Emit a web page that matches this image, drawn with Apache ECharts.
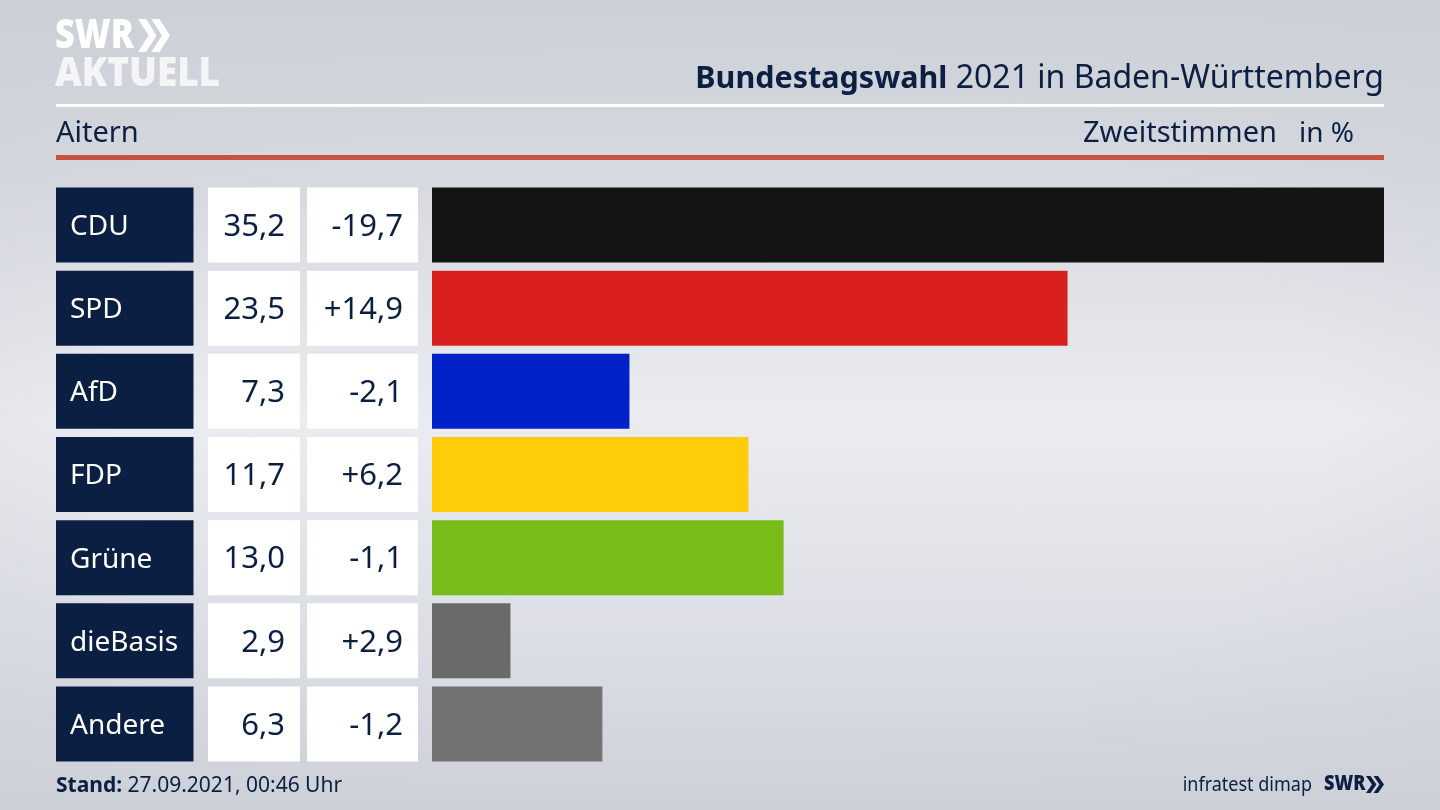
<!DOCTYPE html>
<html lang="de">
<head>
<meta charset="UTF-8">
<title>Bundestagswahl 2021 in Baden-Württemberg</title>
<style>
	*{margin:0;padding:0;}
	html,body{width:1440px;height:810px;overflow:hidden;}
	body{background:
		radial-gradient(ellipse 1000px 560px at 50% 52%,rgba(205,208,215,0) 60%,rgba(205,208,215,.55) 100%),
		linear-gradient(to bottom,#ccd0d7 0%,#d6d9df 22%,#eaecf1 52%,#d9dce2 82%,#cdd0d7 100%);}
	#chart{width:1440px;height:810px;}
</style>
</head>
<body>
<div id="chart"></div>
<script src="https://cdn.jsdelivr.net/npm/echarts@6/dist/echarts.min.js"></script>
<script>
var parties = ['CDU','SPD','AfD','FDP','Grüne','dieBasis','Andere'];
var shares = [35.2,23.5,7.3,11.7,13.0,2.9,6.3];
var changes = [-19.7,14.9,-2.1,6.2,-1.1,2.9,-1.2];
var barColors = ['#141414','#d9201f','#0020c8','#ffcc09','#78bc1a','#6a6a6a','#737374'];

var NAVY = '#0a1f41';
var FONT = '"Noto Sans"';

function fmt(v){
	return v.toFixed(1).replace('.',',');
}
function fmtChange(v){
	return (v>0 ? '+' : '') + fmt(v);
}

// linke Tabelle: Partei, Anteil, Differenz
function renderCells(params,api){
	var i = params.dataIndex;
	var y = api.coord([0,i])[1];
	var h = 75;
	var top = y-h/2;
	return {
		type:'group',
		children:[
			{type:'rect',shape:{x:56,y:top,width:137.5,height:h},style:{fill:NAVY}},
			{type:'rect',shape:{x:208,y:top,width:92,height:h},style:{fill:'#fff'}},
			{type:'rect',shape:{x:307,y:top,width:111,height:h},style:{fill:'#fff'}},
			{type:'text',style:{x:70,y:y+2,text:parties[i],fill:'#fff',font:'28px '+FONT,textAlign:'left',textVerticalAlign:'middle'}},
			{type:'text',style:{x:285,y:y+2,text:fmt(shares[i]),fill:NAVY,font:'31px '+FONT,textAlign:'right',textVerticalAlign:'middle'}},
			{type:'text',style:{x:403,y:y+2,text:fmtChange(changes[i]),fill:NAVY,font:'31px '+FONT,textAlign:'right',textVerticalAlign:'middle'}}
		]
	};
}

function chevrons(x,y,w,h,fill){
	var cw = w*0.58, t = w*0.25;
	var one = function(x0){
		return {type:'polygon',shape:{points:[[x0,y],[x0+t,y],[x0+cw,y+h/2],[x0+t,y+h],[x0,y+h],[x0+cw-t,y+h/2]]},style:{fill:fill}};
	};
	return [one(x),one(x+w-cw)];
}

function label(x,y,text,size,fill,align,weight,scaleX){
	return {type:'text',x:x,y:y,scaleX:scaleX||1,style:{text:text,fill:fill,font:(weight||'normal')+' '+size+'px '+FONT,textAlign:align||'left',textVerticalAlign:'middle'}};
}

var decor = [
	label(55,36,'SWR',41,'#fff','left','900',0.84),
	label(55,74,'AKTUELL',41,'#f4f5f7','left','900',0.9),
	{type:'rect',shape:{x:56,y:104,width:1328,height:3},style:{fill:'#fff'}},
	{type:'rect',shape:{x:56,y:155,width:1328,height:5},style:{fill:'#c9523f'}},
	{type:'text',x:1384,y:79,style:{
		text:'{b|Bundestagswahl}{r| 2021 in Baden-Württemberg}',
		align:'right',verticalAlign:'middle',
		rich:{
			b:{font:'bold 30.5px '+FONT,fill:NAVY},
			r:{font:'32px '+FONT,fill:NAVY}
		}
	}},
	label(56,134,'Aitern',29,NAVY),
	label(1277,134,'Zweitstimmen',29,NAVY,'right'),
	label(1354,134,'in %',28,NAVY,'right'),
	{type:'text',x:56,y:786,style:{
		text:'{b|Stand:}{r| 27.09.2021, 00:46 Uhr}',
		verticalAlign:'middle',
		rich:{
			b:{font:'bold 21px '+FONT,fill:NAVY},
			r:{font:'21px '+FONT,fill:NAVY}
		}
	}},
	label(1312,785,'infratest dimap',20,NAVY,'right','normal',0.9),
	label(1324,784,'SWR',21,NAVY,'left','900',0.86)
].concat(chevrons(138,19,32,33,'#fff'),chevrons(1366,776,18,17,NAVY));

var chart = echarts.init(document.getElementById('chart'),null,{renderer:'canvas'});
chart.setOption({
	animation:false,
	backgroundColor:'transparent',
	grid:{left:432,right:56,top:183.4,height:582.2},
	xAxis:{type:'value',min:0,max:35.2,show:false},
	yAxis:{type:'category',inverse:true,data:parties,show:false},
	graphic:decor,
	series:[
		{
			type:'bar',
			barWidth:75,
			data:shares.map(function(v,i){
				return {value:v,itemStyle:{color:barColors[i]}};
			})
		},
		{
			type:'custom',
			silent:true,
			renderItem:renderCells,
			data:parties.map(function(p,i){return [0,i];})
		}
	]
});
</script>
</body>
</html>
